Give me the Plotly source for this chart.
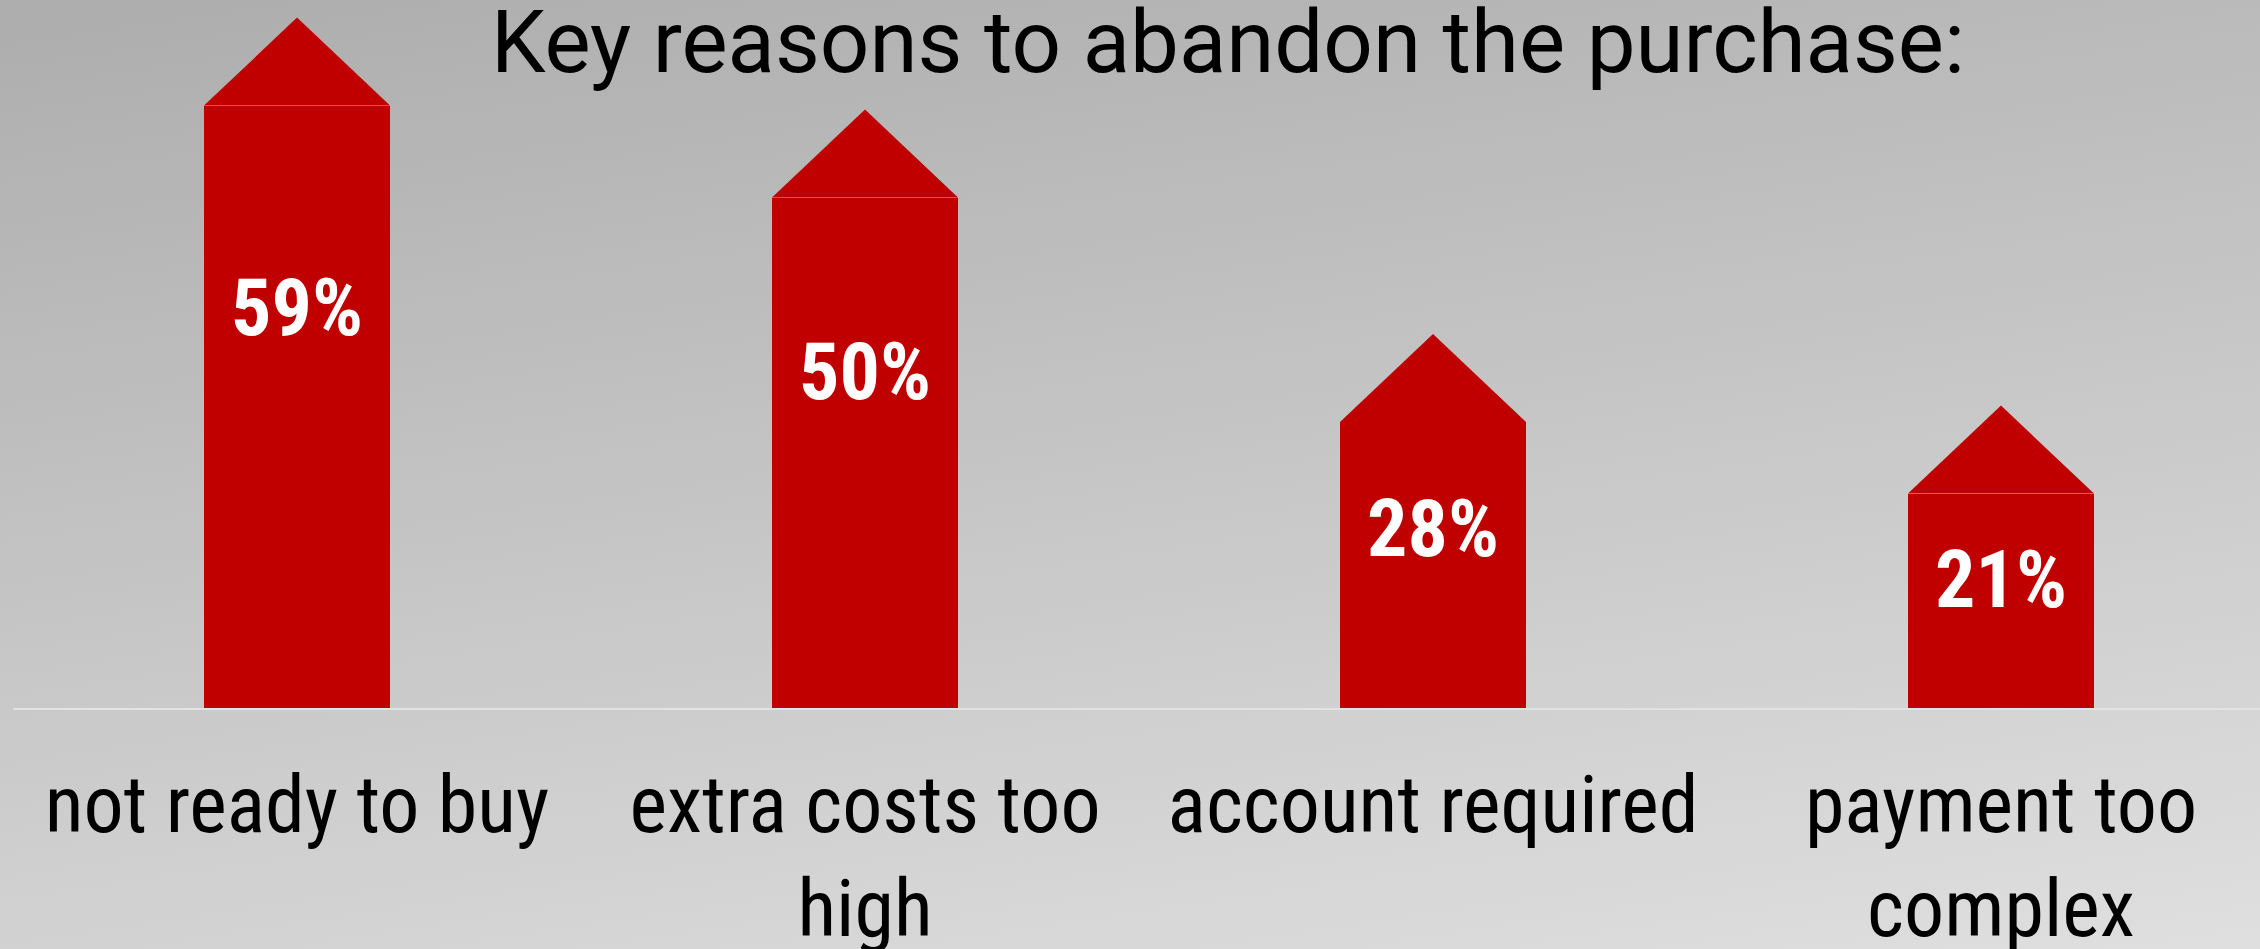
import base64
import plotly.graph_objects as go

# ---- data ----
categories = ["not ready to buy", "extra costs too<br>high", "account required", "payment too<br>complex"]
values = [59, 50, 28, 21]
value_labels = ["59%", "50%", "28%", "21%"]
title_text = "Key reasons to abandon the purchase:"

# ---- style ----
W, H = 2260, 949
RED = "#C00000"
FONT = "Roboto Condensed, Liberation Sans Narrow, DejaVu Sans Condensed, Roboto, sans-serif"
TITLE_FONT = "Roboto, sans-serif"
bar_width = 0.3275
roof_height = 8.62          # triangle height in axis units
label_a, label_b = 0.70, -2.8   # label position inside bar

x_pos = list(range(len(values)))

fig = go.Figure()

# bars
fig.add_trace(go.Bar(
    x=x_pos, y=values, width=bar_width,
    marker=dict(color=RED, line=dict(width=0)),
    hoverinfo="skip", showlegend=False,
))

# triangular roofs
for xi, v in zip(x_pos, values):
    fig.add_trace(go.Scatter(
        x=[xi - bar_width / 2, xi, xi + bar_width / 2, xi - bar_width / 2],
        y=[v, v + roof_height, v, v],
        mode="lines", fill="toself", fillcolor=RED,
        line=dict(width=0, color=RED),
        hoverinfo="skip", showlegend=False,
    ))

# value labels
fig.add_trace(go.Scatter(
    x=x_pos, y=[v * label_a + label_b for v in values],
    mode="text", text=value_labels,
    textfont=dict(family=FONT, size=80, color="white", weight="bold"),
    hoverinfo="skip", showlegend=False,
))

# gradient background as svg image
svg = f'''<svg xmlns="http://www.w3.org/2000/svg" width="{W}" height="{H}" viewBox="0 0 {W} {H}" preserveAspectRatio="none">
<defs><linearGradient id="g" gradientUnits="userSpaceOnUse" x1="0" y1="0" x2="185" y2="1255">
<stop offset="0" stop-color="#ADADAD"/><stop offset="1" stop-color="#DFDFDF"/></linearGradient></defs>
<rect x="0" y="0" width="{W}" height="{H}" fill="url(#g)"/></svg>'''
src = "data:image/svg+xml;base64," + base64.b64encode(svg.encode()).decode()

ml, mr, mt, mb = 13, 0, 0, 241
pw, ph = W - ml - mr, H - mt - mb

fig.add_layout_image(dict(
    source=src, xref="paper", yref="paper",
    x=-ml / pw, y=1 + mt / ph, sizex=W / pw, sizey=H / ph,
    xanchor="left", yanchor="top", sizing="stretch", layer="below",
))

fig.update_layout(
    width=W, height=H,
    margin=dict(l=ml, r=mr, t=mt, b=mb, pad=0, autoexpand=False),
    paper_bgcolor="#C4C4C4", plot_bgcolor="rgba(0,0,0,0)",
    font=dict(family=FONT, color="black"),
    title=dict(
        text=title_text, font=dict(family=TITLE_FONT, size=87, color="black"),
        x=1228 / W, xanchor="center", xref="container",
        y=1 - 42 / H, yanchor="middle", yref="container", automargin=False,
    ),
    bargap=0,
    xaxis=dict(
        range=[-0.5, 3.456], tickmode="array", tickvals=x_pos, ticktext=categories,
        showgrid=False, zeroline=False, showline=True, linecolor="#E2E2E2", linewidth=2,
        ticks="", tickfont=dict(family=FONT, size=80, color="black"),
        ticklabelstandoff=26, automargin=False, fixedrange=True,
    ),
    yaxis=dict(
        range=[0, 708 / 10.21], visible=False, showgrid=False, zeroline=False,
        automargin=False, fixedrange=True,
    ),
)

fig.write_html("out.html", config={"displayModeBar": False})
